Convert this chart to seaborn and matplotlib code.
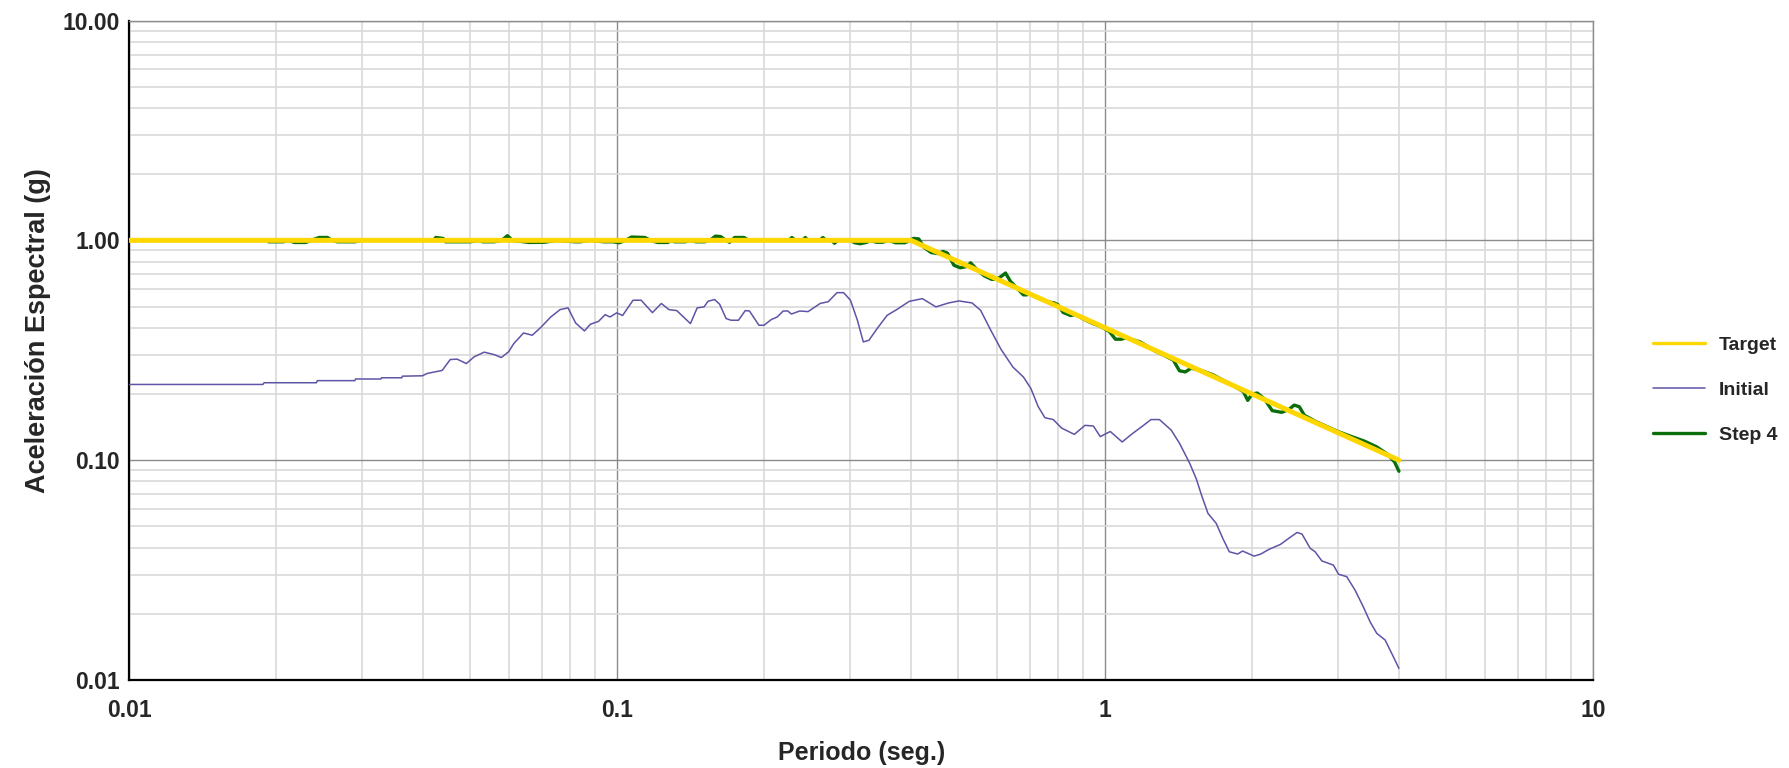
import numpy as np
import pandas as pd
import matplotlib
matplotlib.use("Agg")
import matplotlib.pyplot as plt
from matplotlib.ticker import LogLocator, FixedLocator, FixedFormatter, NullFormatter
from matplotlib.lines import Line2D
import seaborn as sns

# ---- spectra ----
period_target = [0.01, 0.4, 4.0]
sa_target = [1.0, 1.0, 0.1]

period_initial = [0.010, 0.0188, 0.0189, 0.0242, 0.0243, 0.0290, 0.0291, 0.0328, 0.0329, 0.0362,
                  0.0363, 0.0399, 0.0408, 0.0438, 0.0455, 0.0470, 0.0491, 0.0509, 0.0534, 0.0560,
                  0.0579, 0.0599, 0.0614, 0.0643, 0.0670, 0.0697, 0.0731, 0.0764, 0.0793, 0.0822,
                  0.0857, 0.0881, 0.0916, 0.0945, 0.0967, 0.0998, 0.1026, 0.1078, 0.1120, 0.1181,
                  0.1232, 0.1277, 0.1325, 0.1413, 0.1459, 0.1507, 0.1535, 0.1584, 0.1622, 0.1672,
                  0.1711, 0.1773, 0.1830, 0.1867, 0.1952, 0.2000, 0.2069, 0.2128, 0.2189, 0.2238,
                  0.2275, 0.2366, 0.2462, 0.2606, 0.2708, 0.2822, 0.2912, 0.3007, 0.3107, 0.3195,
                  0.3281, 0.3411, 0.3575, 0.3740, 0.3970, 0.4222, 0.4500, 0.4777, 0.5015, 0.5337,
                  0.5555, 0.5830, 0.6120, 0.6473, 0.6800, 0.7044, 0.7294, 0.7527, 0.7829, 0.8142,
                  0.8647, 0.9093, 0.9460, 0.9773, 1.0248, 1.0838, 1.1370, 1.1937, 1.2415, 1.2920,
                  1.3660, 1.4215, 1.4910, 1.5390, 1.5760, 1.6250, 1.6890, 1.7420, 1.7970, 1.8690,
                  1.9130, 2.0200, 2.0840, 2.1670, 2.2880, 2.3790, 2.4740, 2.5320, 2.6320, 2.6940,
                  2.7810, 2.9370, 3.0070, 3.1270, 3.2530, 3.3820, 3.4910, 3.6030, 3.7480, 3.8670,
                  4.0000]
sa_initial = [0.221, 0.221, 0.225, 0.225, 0.230, 0.230, 0.234, 0.234, 0.237, 0.237,
              0.241, 0.242, 0.248, 0.256, 0.287, 0.288, 0.275, 0.295, 0.310, 0.302,
              0.293, 0.311, 0.339, 0.379, 0.370, 0.401, 0.448, 0.484, 0.493, 0.421,
              0.387, 0.415, 0.428, 0.459, 0.448, 0.468, 0.455, 0.534, 0.534, 0.469,
              0.516, 0.484, 0.479, 0.418, 0.493, 0.498, 0.528, 0.538, 0.512, 0.441,
              0.433, 0.433, 0.479, 0.477, 0.411, 0.411, 0.436, 0.448, 0.477, 0.477,
              0.462, 0.477, 0.474, 0.516, 0.526, 0.578, 0.578, 0.534, 0.433, 0.345,
              0.351, 0.397, 0.456, 0.484, 0.528, 0.543, 0.498, 0.519, 0.530, 0.519,
              0.481, 0.390, 0.319, 0.265, 0.239, 0.212, 0.175, 0.156, 0.153, 0.140,
              0.131, 0.144, 0.143, 0.128, 0.135, 0.121, 0.132, 0.143, 0.153, 0.153,
              0.137, 0.119, 0.0966, 0.0817, 0.0693, 0.0572, 0.0516, 0.0441, 0.0383, 0.0374,
              0.0386, 0.0366, 0.0374, 0.0393, 0.0414, 0.0441, 0.0469, 0.0461, 0.0397, 0.0383,
              0.0348, 0.0333, 0.0303, 0.0295, 0.0256, 0.0215, 0.0184, 0.0163, 0.0152, 0.0132,
              0.0113]

period_step4 = [0.0193, 0.0207, 0.0212, 0.0218, 0.0230, 0.0236, 0.0245, 0.0255, 0.0260, 0.0267,
                0.0290, 0.0300, 0.0420, 0.0425, 0.0440, 0.0445, 0.0500, 0.0520, 0.0530, 0.0560,
                0.0580, 0.0596, 0.0610, 0.0660, 0.0710, 0.0750, 0.0820, 0.0840, 0.0880, 0.0940,
                0.0980, 0.1010, 0.1040, 0.1070, 0.1140, 0.1170, 0.1210, 0.1270, 0.1290, 0.1310,
                0.1380, 0.1410, 0.1450, 0.1510, 0.1550, 0.1590, 0.1630, 0.1670, 0.1700, 0.1720,
                0.1740, 0.1820, 0.1860, 0.2250, 0.2280, 0.2320, 0.2400, 0.2430, 0.2460, 0.2600,
                0.2640, 0.2680, 0.2750, 0.2790, 0.2830, 0.3000, 0.3070, 0.3150, 0.3250, 0.3300,
                0.3400, 0.3500, 0.3600, 0.3720, 0.3890, 0.3980, 0.4050, 0.4150,
                0.425, 0.440, 0.455, 0.465, 0.475, 0.490, 0.505, 0.520, 0.530, 0.545,
                0.565, 0.585, 0.600, 0.615, 0.625, 0.640, 0.660, 0.680, 0.690, 0.700,
                0.730, 0.760, 0.785, 0.800, 0.820, 0.850, 0.870, 0.900, 0.940, 0.980,
                1.020, 1.050, 1.080, 1.100, 1.130, 1.180, 1.220, 1.260, 1.320, 1.380,
                1.420, 1.460, 1.500, 1.580, 1.660, 1.740, 1.820, 1.920, 1.960, 2.000,
                2.050, 2.120, 2.200, 2.300, 2.380, 2.440, 2.500, 2.560, 2.700, 2.850,
                3.000, 3.200, 3.400, 3.600, 3.800, 3.920, 4.000]
sa_step4 = [0.985, 0.985, 1.000, 0.978, 0.978, 1.000, 1.030, 1.030, 1.000, 0.985,
            0.985, 1.000, 1.000, 1.030, 1.020, 0.985, 0.985, 1.000, 0.985, 0.985,
            1.000, 1.050, 1.000, 0.978, 0.980, 1.000, 0.985, 0.985, 1.000, 0.985,
            0.985, 0.975, 1.000, 1.035, 1.030, 1.000, 0.978, 0.978, 1.000, 0.985,
            0.985, 1.000, 0.985, 0.985, 1.000, 1.045, 1.040, 1.000, 0.980, 1.000,
            1.030, 1.030, 1.000, 1.000, 1.030, 1.000, 1.000, 1.030, 1.000, 1.000,
            1.030, 1.000, 1.000, 0.970, 1.000, 1.000, 0.975, 0.965, 0.980, 1.000,
            0.980, 0.980, 1.000, 0.975, 0.975, 1.000, 1.020, 1.015,
            0.930, 0.880, 0.870, 0.890, 0.875, 0.770, 0.750, 0.760, 0.790, 0.740,
            0.690, 0.665, 0.665, 0.690, 0.710, 0.650, 0.605, 0.565, 0.565, 0.570,
            0.545, 0.525, 0.520, 0.510, 0.470, 0.455, 0.460, 0.440, 0.420, 0.405,
            0.385, 0.355, 0.355, 0.360, 0.355, 0.345, 0.330, 0.315, 0.300, 0.285,
            0.255, 0.252, 0.262, 0.255, 0.245, 0.232, 0.220, 0.205, 0.187, 0.200,
            0.202, 0.190, 0.168, 0.165, 0.170, 0.178, 0.175, 0.160, 0.150, 0.142,
            0.135, 0.128, 0.122, 0.115, 0.106, 0.098, 0.089]

series_names = ["Target", "Initial", "Step 4"]
series_colors = ["#FFD700", "#5D55A5", "#0A6E0A"]
series_widths = [3.6, 1.1, 2.4]

x_ticks = [0.01, 0.1, 1, 10]
x_ticklabels = ["0.01", "0.1", "1", "10"]
y_ticks = [0.01, 0.1, 1, 10]
y_ticklabels = ["0.01", "0.10", "1.00", "10.00"]

sns.set_style("white")
plt.rcParams["font.family"] = ["Liberation Sans", "DejaVu Sans"]
plt.rcParams["font.weight"] = "bold"

fig = plt.figure(figsize=(17.89, 7.68), dpi=100)
ax = fig.add_axes([0.0722, 0.1146, 0.8183, 0.8587])

df_target = pd.DataFrame({"period": period_target, "sa": sa_target})
df_initial = pd.DataFrame({"period": period_initial, "sa": sa_initial})
df_step4 = pd.DataFrame({"period": period_step4, "sa": sa_step4})

sns.lineplot(data=df_initial, x="period", y="sa", ax=ax, color=series_colors[1],
             linewidth=series_widths[1], estimator=None, sort=False, zorder=3)
sns.lineplot(data=df_step4, x="period", y="sa", ax=ax, color=series_colors[2],
             linewidth=series_widths[2], estimator=None, sort=False, zorder=4)
sns.lineplot(data=df_target, x="period", y="sa", ax=ax, color=series_colors[0],
             linewidth=series_widths[0], estimator=None, sort=False, zorder=5)

ax.set_xscale("log")
ax.set_yscale("log")
ax.set_xlim(0.01, 10)
ax.set_ylim(0.01, 10)

ax.xaxis.set_major_locator(FixedLocator(x_ticks))
ax.xaxis.set_major_formatter(FixedFormatter(x_ticklabels))
ax.yaxis.set_major_locator(FixedLocator(y_ticks))
ax.yaxis.set_major_formatter(FixedFormatter(y_ticklabels))
ax.xaxis.set_minor_locator(LogLocator(base=10, subs=np.arange(2, 10), numticks=20))
ax.yaxis.set_minor_locator(LogLocator(base=10, subs=np.arange(2, 10), numticks=20))
ax.xaxis.set_minor_formatter(NullFormatter())
ax.yaxis.set_minor_formatter(NullFormatter())

ax.grid(which="minor", color="#D9D9D9", linewidth=1.2, zorder=0)
ax.grid(which="major", color="#8C8C8C", linewidth=1.0, zorder=1)
ax.set_axisbelow(True)

for side in ["top", "right"]:
    ax.spines[side].set_color("#8C8C8C")
    ax.spines[side].set_linewidth(1.0)
for side in ["left", "bottom"]:
    ax.spines[side].set_color("black")
    ax.spines[side].set_linewidth(1.6)

ax.tick_params(axis="y", which="major", direction="inout", length=9, width=1.2,
               labelsize=16.5, pad=2)
ax.tick_params(axis="y", which="minor", direction="inout", length=5, width=1.2)
ax.tick_params(axis="x", which="major", direction="out", length=7, width=1.2,
               labelsize=16.5, pad=7)
ax.tick_params(axis="x", which="minor", direction="out", length=4, width=1.2)
for lbl in ax.get_xticklabels() + ax.get_yticklabels():
    lbl.set_fontweight("bold")

ax.set_xlabel("Periodo (seg.)", fontsize=18, fontweight="bold")
ax.set_ylabel("Aceleración Espectral (g)", fontsize=19.5, fontweight="bold")
ax.xaxis.set_label_coords(0.5, -0.092)
ax.yaxis.set_label_coords(-0.0535, 0.53)

handles = [Line2D([0], [0], color=c, linewidth=w)
           for c, w in zip(series_colors, [2.4, 1.1, 2.4])]
fig.legend(handles, series_names, loc="center left", bbox_to_anchor=(0.914, 0.492),
           frameon=False, handlelength=2.7, handletextpad=0.7,
           labelspacing=1.4, prop={"weight": "bold", "size": 14})

fig.savefig("out.png", dpi=100)
